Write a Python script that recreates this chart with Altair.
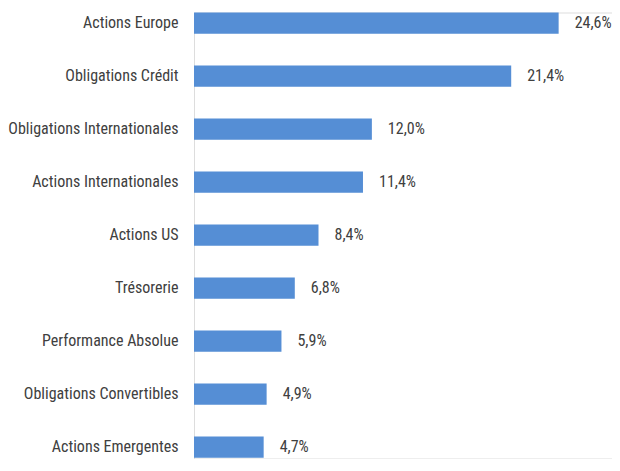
import altair as alt
import pandas as pd

categories = [
    "Actions Europe",
    "Obligations Crédit",
    "Obligations Internationales",
    "Actions Internationales",
    "Actions US",
    "Trésorerie",
    "Performance Absolue",
    "Obligations Convertibles",
    "Actions Emergentes",
]
values = [24.6, 21.4, 12.0, 11.4, 8.4, 6.8, 5.9, 4.9, 4.7]

df = pd.DataFrame({"cat": categories, "val": values})
df["lbl"] = [f"{v:.1f}%".replace(".", ",") for v in values]

FONT = "Roboto Condensed"
TXT = "#404040"

y = alt.Y(
    "cat:N",
    sort=categories,
    scale=alt.Scale(paddingInner=0.6, paddingOuter=0, range=[0, 445.2]),
    axis=alt.Axis(
        title=None,
        domain=False,
        ticks=False,
        grid=False,
        labelPadding=16,
        labelFont=FONT,
        labelFontSize=16,
        labelColor=TXT,
        labelLimit=300,
    ),
)
x = alt.X(
    "val:Q",
    scale=alt.Scale(domain=[0, 28.2], nice=False),
    axis=None,
)

bars = alt.Chart(df).mark_bar(color="#558ed5").encode(x=x, y=y)
text = alt.Chart(df).mark_text(
    align="left", baseline="middle", dx=16, font=FONT, fontSize=16, color=TXT
).encode(x=x, y=y, text="lbl:N")

chart = (
    (bars + text)
    .properties(
        width=418,
        height=446,
        padding={"left": 186, "top": 4.5, "right": 0, "bottom": 0},
        autosize=alt.AutoSizeParams(type="none"),
    )
    .configure_view(stroke="transparent", strokeWidth=0, strokeOpacity=0)
    .configure_axis(domain=False, grid=False, ticks=False)
    .configure(background="white")
)

chart.save("out.html", embed_options={"renderer": "svg", "actions": False})
